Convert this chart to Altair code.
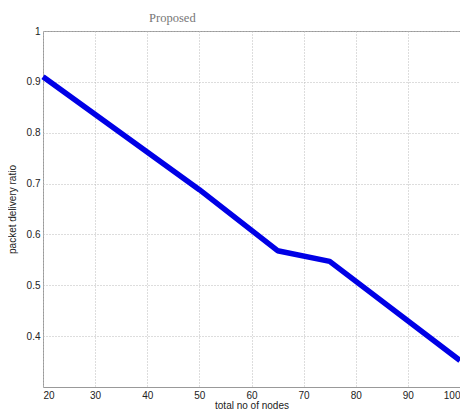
import altair as alt
import pandas as pd

nodes = [20, 50, 65, 75, 100]
pdr = [0.91, 0.688, 0.568, 0.547, 0.352]

df = pd.DataFrame({"nodes": nodes, "pdr": pdr})

x_ticks = [20, 30, 40, 50, 60, 70, 80, 90, 100]
y_ticks = [0.4, 0.5, 0.6, 0.7, 0.8, 0.9, 1.0]

font = "Liberation Sans"

chart = alt.Chart(df).mark_line(color="#0000e6", strokeWidth=5.5, strokeJoin="round").encode(
    x=alt.X("nodes:Q",
            scale=alt.Scale(domain=[20, 100], nice=False, zero=False),
            axis=alt.Axis(values=x_ticks, title="total no of nodes", format="d",
                          grid=True, gridDash=[1, 2], gridColor="#bbbbbb",
                          ticks=False, domain=False, labelPadding=3,
                          labelFont=font, labelFontSize=10, labelColor="#222",
                          titleFont=font, titleFontSize=10, titleFontWeight="normal",
                          titleColor="#222", titlePadding=0)),
    y=alt.Y("pdr:Q",
            scale=alt.Scale(domain=[0.3, 1.0], nice=False, zero=False),
            axis=alt.Axis(values=y_ticks, title="packet delivery ratio",
                          labelExpr="datum.value == 1 ? '1' : format(datum.value, '.1f')",
                          grid=True, gridDash=[1, 2], gridColor="#bbbbbb",
                          ticks=False, domain=False, labelPadding=3,
                          labelFont=font, labelFontSize=10, labelColor="#222",
                          titleFont=font, titleFontSize=10, titleFontWeight="normal",
                          titleColor="#222", titlePadding=9)),
).properties(
    width=417,
    height=356,
    title=alt.TitleParams("Proposed", anchor="start", dx=142, offset=2,
                          font="Liberation Serif", fontSize=12.5, fontWeight="normal",
                          color="#777777"),
    autosize=alt.AutoSizeParams(type="none"),
    padding={"left": 35, "top": 23, "right": 0, "bottom": 23},
).configure_view(stroke="#999999", strokeWidth=1)

chart.save("out.html", embed_options={"renderer": "svg", "actions": False})
